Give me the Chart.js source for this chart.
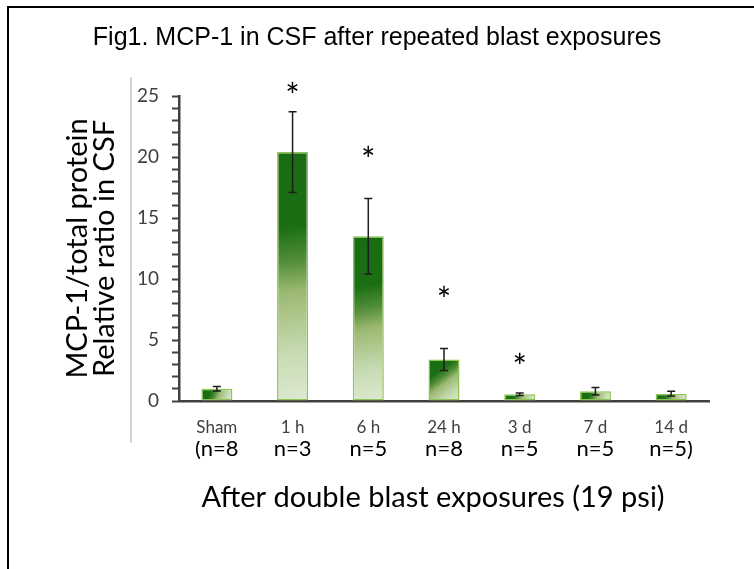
<!DOCTYPE html>
<html>
<head>
<meta charset="utf-8">
<script src="https://cdn.jsdelivr.net/npm/chart.js@4.4.1/dist/chart.umd.min.js"></script>
<style>
  html, body { margin: 0; padding: 0; background: #fff; }
  #wrap { position: relative; width: 754px; height: 569px; overflow: hidden; }
  #frame { position: absolute; left: 7px; top: 6px; width: 800px; height: 700px; border: 2px solid #000; }
  #chart { position: absolute; left: 0; top: 0; }
</style>
</head>
<body>
<div id="wrap">
  <div id="frame"></div>
  <canvas id="chart" width="754" height="569"></canvas>
</div>
<script>
// MCP-1 / total protein, relative ratio in CSF
var groups = ['Sham', '1 h', '6 h', '24 h', '3 d', '7 d', '14 d'];
var nLabels = ['(n=8', 'n=3', 'n=5', 'n=8', 'n=5', 'n=5', 'n=5)'];
var ratio = [1.0, 20.4, 13.5, 3.4, 0.55, 0.8, 0.6];
var sem = [0.18, 3.3, 3.1, 0.9, 0.1, 0.3, 0.2];
// asterisk height (in axis units), null = not significant
var stars = [null, 25.7, 20.5, 9.0, 3.5, null, null];
var yTicks = [0, 5, 10, 15, 20, 25];

var BAR_PCT = 0.41;

// diagonal green fade, dark top-left -> pale bottom-right of each bar
function barFill(c) {
  var chart = c.chart;
  var area = chart.chartArea;
  if (!area || c.type !== 'data') return '#1b6d12';
  var xs = chart.scales.x, ys = chart.scales.y;
  var cx = xs.getPixelForValue(c.dataIndex);
  var half = xs.width / groups.length * BAR_PCT / 2;
  var top = ys.getPixelForValue(c.raw);
  var bottom = ys.getPixelForValue(0);
  var g = chart.ctx.createLinearGradient(cx - half, top, cx + half, bottom);
  g.addColorStop(0, '#196c11');
  g.addColorStop(0.3, '#1b6e13');
  g.addColorStop(0.43, '#4e8b38');
  g.addColorStop(0.56, '#9cb972');
  g.addColorStop(0.8, '#c6dbb2');
  g.addColorStop(1, '#dde9d1');
  return g;
}

var extras = {
  id: 'extras',
  beforeDraw: function(chart) {
    var ctx = chart.ctx, a = chart.chartArea;
    // thin grey rule left of the tick labels
    ctx.save();
    ctx.strokeStyle = '#c9c9c9';
    ctx.lineWidth = 1.5;
    ctx.beginPath();
    ctx.moveTo(a.left - 48, a.top - 19);
    ctx.lineTo(a.left - 48, a.bottom + 42);
    ctx.stroke();
    ctx.restore();
  },
  afterDatasetsDraw: function(chart) {
    var ctx = chart.ctx, xs = chart.scales.x, ys = chart.scales.y;
    ctx.save();
    // error bars
    ctx.strokeStyle = '#1e1e1e';
    ctx.lineWidth = 1.5;
    for (var i = 0; i < ratio.length; i++) {
      var x = xs.getPixelForValue(i);
      var hi = ys.getPixelForValue(ratio[i] + sem[i]);
      var lo = ys.getPixelForValue(ratio[i] - sem[i]);
      ctx.beginPath();
      ctx.moveTo(x, hi); ctx.lineTo(x, lo);
      ctx.moveTo(x - 4, hi); ctx.lineTo(x + 4, hi);
      ctx.moveTo(x - 4, lo); ctx.lineTo(x + 4, lo);
      ctx.stroke();
    }
    // significance marks
    ctx.fillStyle = '#000';
    ctx.font = '34px Lato';
    ctx.textAlign = 'center';
    ctx.textBaseline = 'alphabetic';
    var m = ctx.measureText('*');
    var mid = (m.actualBoundingBoxAscent - m.actualBoundingBoxDescent) / 2;
    for (var j = 0; j < stars.length; j++) {
      if (stars[j] === null) continue;
      ctx.fillText('*', xs.getPixelForValue(j), ys.getPixelForValue(stars[j]) + mid);
    }
    // x caption under the group counts
    var a = chart.chartArea;
    ctx.fillStyle = '#000';
    ctx.font = '29px Lato';
    ctx.textBaseline = 'middle';
    ctx.fillText('After double blast exposures (19 psi)', (a.left + a.right) / 2 - 11, a.bottom + 97);
    ctx.restore();
  }
};

new Chart(document.getElementById('chart'), {
  type: 'bar',
  data: {
    labels: groups,
    datasets: [{
      data: ratio,
      backgroundColor: barFill,
      borderColor: '#8fc353',
      borderWidth: 1.5,
      borderSkipped: false,
      categoryPercentage: 1,
      barPercentage: BAR_PCT
    }]
  },
  options: {
    responsive: false,
    animation: false,
    events: [],
    layout: { padding: 0 },
    plugins: {
      legend: { display: false },
      tooltip: { enabled: false },
      title: {
        display: true,
        text: 'Fig1. MCP-1 in CSF after repeated blast exposures',
        color: '#000',
        font: { family: 'Liberation Sans', size: 25, weight: 'normal' },
        padding: { top: 23, bottom: 43 }
      }
    },
    scales: {
      x: {
        weight: 0,
        grid: { display: false },
        border: { color: '#404040', width: 2.5 },
        ticks: { color: '#404040', font: { family: 'Lato', size: 17 }, padding: 8, maxRotation: 0 },
        afterFit: function(s) { s.height = 40; }
      },
      x2: {
        type: 'category',
        labels: nLabels,
        position: 'bottom',
        offset: true,
        weight: 1,
        grid: { display: false, drawTicks: false },
        border: { display: false },
        ticks: { color: '#000', font: { family: 'Lato', size: 22 }, padding: -5, maxRotation: 0 },
        afterFit: function(s) { s.height = 128; }
      },
      y: {
        min: 0,
        max: 25,
        ticks: {
          stepSize: 1,
          autoSkip: false,
          color: '#404040',
          font: { family: 'Lato', size: 19 },
          padding: 13,
          callback: function(v) { return yTicks.indexOf(v) >= 0 ? String(v) : ''; }
        },
        grid: { drawOnChartArea: false, tickLength: 7, tickWidth: 2, color: '#404040' },
        border: { color: '#404040', width: 2.5 },
        title: {
          display: true,
          text: ['MCP-1/total protein', 'Relative ratio in CSF'],
          color: '#000',
          font: { family: 'Lato', size: 29, lineHeight: 0.9 },
          padding: { top: 65, bottom: 0 }
        },
        afterFit: function(s) { s.width = 179; }
      },
      yR: {
        type: 'linear',
        position: 'right',
        grid: { display: false },
        border: { display: false },
        ticks: { display: false },
        afterFit: function(s) { s.width = 45; }
      }
    }
  },
  plugins: [extras]
});
</script>
</body>
</html>
